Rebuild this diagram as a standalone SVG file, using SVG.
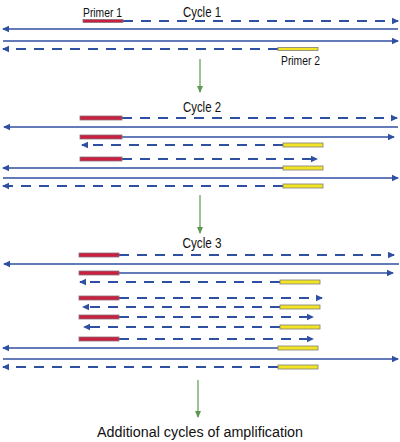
<svg xmlns="http://www.w3.org/2000/svg" width="400" height="442" viewBox="0 0 400 442">
<style>
.s{stroke:#2f50a2;stroke-width:1.6;fill:none;marker-end:url(#ah)}
.d{stroke:#2f50a2;stroke-width:1.8;fill:none;stroke-dasharray:10 8;marker-end:url(#ah)}
.r{fill:#c8203e;stroke:#8a6f7a;stroke-width:0.8}
.y{fill:#f2e424;stroke:#7d7f78;stroke-width:0.8}
.g{stroke:#5b9950;stroke-width:1.2;fill:none;marker-end:url(#gh)}
text{font-family:"Liberation Sans Narrow","Liberation Sans",Arial,sans-serif;fill:#111}
</style>
<defs>
<marker id="ah" markerUnits="userSpaceOnUse" markerWidth="8" markerHeight="8" viewBox="0 0 8 8" refX="6" refY="4" orient="auto"><path d="M0,0.8 L7,4 L0,7.2 Z" fill="#2f50a2"/></marker>
<marker id="gh" markerUnits="userSpaceOnUse" markerWidth="8" markerHeight="8" viewBox="0 0 8 8" refX="6" refY="4" orient="auto"><path d="M0,1 L7,4 L0,7 Z" fill="#5b9950"/></marker>
</defs>
<g id="connectors">
<line class="g" x1="200" y1="59" x2="200" y2="92"/>
<line class="g" x1="200" y1="195" x2="200" y2="233"/>
<line class="g" x1="198" y1="380" x2="198" y2="417"/>
</g>
<g id="cycle1">
<text x="202" y="17" font-size="15.5" text-anchor="middle" textLength="38" lengthAdjust="spacingAndGlyphs">Cycle 1</text>
<text x="83" y="17" font-size="13" textLength="39" lengthAdjust="spacingAndGlyphs">Primer 1</text>
<path class="d" d="M123,21 H398"/>
<rect class="r" x="83" y="19.5" width="40" height="3"/>
<path class="s" d="M398,29 H3"/>
<path class="s" d="M3,41 H398"/>
<path class="d" d="M278,49 H3"/>
<rect class="y" x="278" y="47.5" width="40" height="3"/>
<text x="281" y="65" font-size="13" textLength="39" lengthAdjust="spacingAndGlyphs">Primer 2</text>
</g>
<g id="cycle2">
<text x="202" y="112" font-size="15.5" text-anchor="middle" textLength="38" lengthAdjust="spacingAndGlyphs">Cycle 2</text>
<path class="d" d="M122,118 H397"/>
<rect class="r" x="80" y="116" width="42" height="4"/>
<path class="s" d="M398,127 H4"/>
<path class="s" d="M122,137 H394"/>
<rect class="r" x="80" y="135" width="42" height="4"/>
<path class="d" d="M283,145 H82"/>
<rect class="y" x="283" y="143" width="40" height="4"/>
<path class="d" d="M122,159 H317"/>
<rect class="r" x="80" y="157" width="42" height="4"/>
<path class="s" d="M283,168 H3"/>
<rect class="y" x="283" y="166" width="40" height="4"/>
<path class="s" d="M3,178 H398"/>
<path class="d" d="M283,186 H3"/>
<rect class="y" x="283" y="184" width="40" height="4"/>
</g>
<g id="cycle3">
<text x="202" y="248" font-size="15.5" text-anchor="middle" textLength="39" lengthAdjust="spacingAndGlyphs">Cycle 3</text>
<path class="d" d="M119,255 H394"/>
<rect class="r" x="79" y="253" width="40" height="4"/>
<path class="s" d="M399,264 H4"/>
<path class="s" d="M119,273 H393"/>
<rect class="r" x="79" y="271" width="40" height="4"/>
<path class="d" d="M280,282 H80"/>
<rect class="y" x="280" y="280" width="40" height="4"/>
<path class="d" d="M119,298 H322"/>
<rect class="r" x="79" y="296" width="40" height="4"/>
<path class="d" d="M280,307 H83"/>
<rect class="y" x="280" y="305" width="40" height="4"/>
<path class="d" d="M119,317 H313"/>
<rect class="r" x="79" y="315" width="40" height="4"/>
<path class="d" d="M280,327 H84"/>
<rect class="y" x="280" y="325" width="40" height="4"/>
<path class="d" d="M119,339 H313"/>
<rect class="r" x="79" y="337" width="40" height="4"/>
<path class="s" d="M278,348 H3"/>
<rect class="y" x="278" y="346" width="40" height="4"/>
<path class="s" d="M3,359 H398"/>
<path class="d" d="M278,367 H3"/>
<rect class="y" x="278" y="365" width="40" height="4"/>
</g>
<g id="footer">
<text x="200" y="437" font-size="15.5" text-anchor="middle" textLength="206" lengthAdjust="spacingAndGlyphs">Additional cycles of amplification</text>
</g>
</svg>
